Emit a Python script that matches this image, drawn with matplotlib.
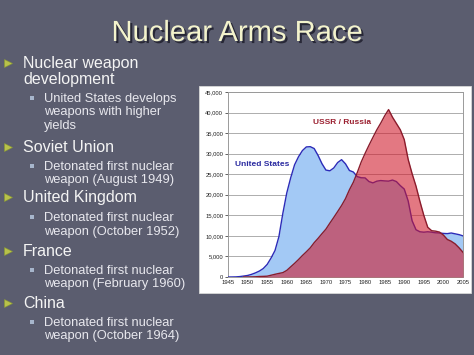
import matplotlib
matplotlib.use('Agg')
import matplotlib.pyplot as plt
import matplotlib.patheffects as pe
from matplotlib.patches import Rectangle
from matplotlib.ticker import FuncFormatter

plt.rcParams['font.family'] = ['Liberation Sans', 'DejaVu Sans']

# ---------------- data ----------------
us_years = [1945, 1946, 1947, 1948, 1949, 1950, 1951, 1952, 1953, 1954, 1955, 1956,
            1957, 1958, 1959, 1960, 1961, 1962, 1963, 1964, 1965, 1966, 1967, 1968,
            1969, 1970, 1971, 1972, 1973, 1974, 1975, 1976, 1977, 1978, 1979, 1980,
            1981, 1982, 1983, 1984, 1985, 1986, 1987, 1988, 1989, 1990, 1991, 1992,
            1993, 1994, 1995, 1996, 1997, 1998, 1999, 2000, 2001, 2002, 2003, 2004, 2005]
us_stock = [0, 10, 30, 100, 230, 370, 640, 1000, 1440, 2060, 3060, 4620,
            6440, 9820, 15470, 20430, 24110, 27300, 29250, 30750, 31640, 31700, 31250, 29560,
            27550, 26010, 25830, 26520, 27840, 28540, 27520, 25910, 25540, 24420, 24140, 24100,
            23210, 22890, 23310, 23460, 23370, 23320, 23580, 23210, 22220, 21390, 18500, 13700,
            11500, 11000, 10900, 11000, 10900, 10750, 10700, 10600, 10550, 10700, 10500, 10300, 10000]

ussr_years = [1949, 1950, 1951, 1952, 1953, 1954, 1955, 1956, 1957, 1958, 1959, 1960,
              1961, 1962, 1963, 1964, 1965, 1966, 1967, 1968, 1969, 1970, 1971, 1972,
              1973, 1974, 1975, 1976, 1977, 1978, 1979, 1980, 1981, 1982, 1983, 1984,
              1985, 1986, 1987, 1988, 1989, 1990, 1991, 1992, 1993, 1994, 1995, 1996,
              1997, 1998, 1999, 2000, 2001, 2002, 2003, 2004, 2005]
ussr_stock = [0, 5, 25, 50, 120, 150, 200, 430, 660, 870, 1060, 1600,
              2470, 3320, 4240, 5220, 6130, 7090, 8340, 9400, 10540, 11640, 13090, 14480,
              15920, 17390, 19060, 21210, 23040, 25390, 27940, 30060, 32050, 33950, 35800, 37430,
              39200, 40720, 38860, 37330, 35800, 33420, 28600, 25150, 22100, 18400, 14980, 12090,
              11260, 11150, 10920, 10200, 9130, 8690, 8050, 7100, 6000]

x_ticks = list(range(1945, 2006, 5))
y_ticks = list(range(0, 45001, 5000))

title = "Nuclear Arms Race"
bullets = [
    ("main", "Nuclear weapon", 68),
    ("cont", "development", 84),
    ("sub", "United States develops", 102),
    ("subc", "weapons with higher", 115),
    ("subc", "yields", 129),
    ("main", "Soviet Union", 152),
    ("sub", "Detonated first nuclear", 170),
    ("subc", "weapon (August 1949)", 183),
    ("main", "United Kingdom", 202),
    ("sub", "Detonated first nuclear", 221),
    ("subc", "weapon (October 1952)", 235),
    ("main", "France", 256),
    ("sub", "Detonated first nuclear", 274),
    ("subc", "weapon (February 1960)", 287),
    ("main", "China", 308),
    ("sub", "Detonated first nuclear", 326),
    ("subc", "weapon (October 1964)", 339),
]

# ---------------- figure ----------------
W, H = 474, 355
fig = plt.figure(figsize=(W / 100, H / 100), dpi=100)
fig.patch.set_facecolor('#5b5d6f')

bg = fig.add_axes([0, 0, 1, 1])
bg.set_xlim(0, W)
bg.set_ylim(H, 0)
bg.axis('off')

# title
bg.text(237, 33, title, ha='center', va='center', fontsize=21, color='#f3f3cc',
        path_effects=[pe.withSimplePatchShadow(offset=(1.5, -1.5), shadow_rgbFace='#222230', alpha=0.9)])

# bullet text
for kind, txt, yb in bullets:
    if kind in ("main", "cont"):
        bg.text(23, yb, txt, ha='left', va='baseline', fontsize=11.5, color='#f4f4f4')
        if kind == "main":
            bg.plot([8], [yb - 5], marker='>', markersize=6, color='#b8c24a',
                    markeredgecolor='#8a9a30', markeredgewidth=0.4)
    else:
        bg.text(44, yb, txt, ha='left', va='baseline', fontsize=9.3, color='#e8e8ee')
        if kind == "sub":
            bg.plot([32.5], [yb - 4], marker='s', markersize=2.8, color='#a7b6cc',
                    markeredgewidth=0)

# white chart box
bg.add_patch(Rectangle((199, 86), 272, 207, facecolor='white', edgecolor='#d8d8d8', lw=0.6))

# chart axes
L, R, T, B = 228, 463, 92, 277
ax = fig.add_axes([L / W, 1 - B / H, (R - L) / W, (B - T) / H])
ax.set_facecolor('white')
ax.set_xlim(1945, 2005)
ax.set_ylim(0, 45000)

ax.fill_between(us_years, us_stock, 0, color='#a3c9f5', lw=0, zorder=2)
ax.plot(us_years, us_stock, color='#2b2bb8', lw=1.0, zorder=3)
ax.fill_between(ussr_years, ussr_stock, 0, color='#d01628', alpha=0.58, lw=0, zorder=4)
ax.plot(ussr_years, ussr_stock, color='#8a1c2c', lw=1.0, zorder=5)

ax.set_xticks(x_ticks)
ax.set_yticks(y_ticks)
ax.yaxis.set_major_formatter(FuncFormatter(lambda v, p: f"{int(v):,}"))
ax.tick_params(axis='both', labelsize=4.2, colors='#222222', length=2, width=0.5, pad=1.5)
ax.tick_params(axis='x', length=0, pad=2.5)
ax.grid(axis='y', color='#a0a0a0', lw=0.6, zorder=1)
for s in ax.spines.values():
    s.set_color('#9a9a9a')
    s.set_linewidth(0.7)

ax.text(1946.7, 27400, "United States", fontsize=6, fontweight='bold', color='#2a2aa0',
        ha='left', va='center', zorder=6)
ax.text(1966.7, 37500, "USSR / Russia", fontsize=6, fontweight='bold', color='#9b2030',
        ha='left', va='center', zorder=6)

fig.savefig('out.png', dpi=100, facecolor=fig.get_facecolor())
